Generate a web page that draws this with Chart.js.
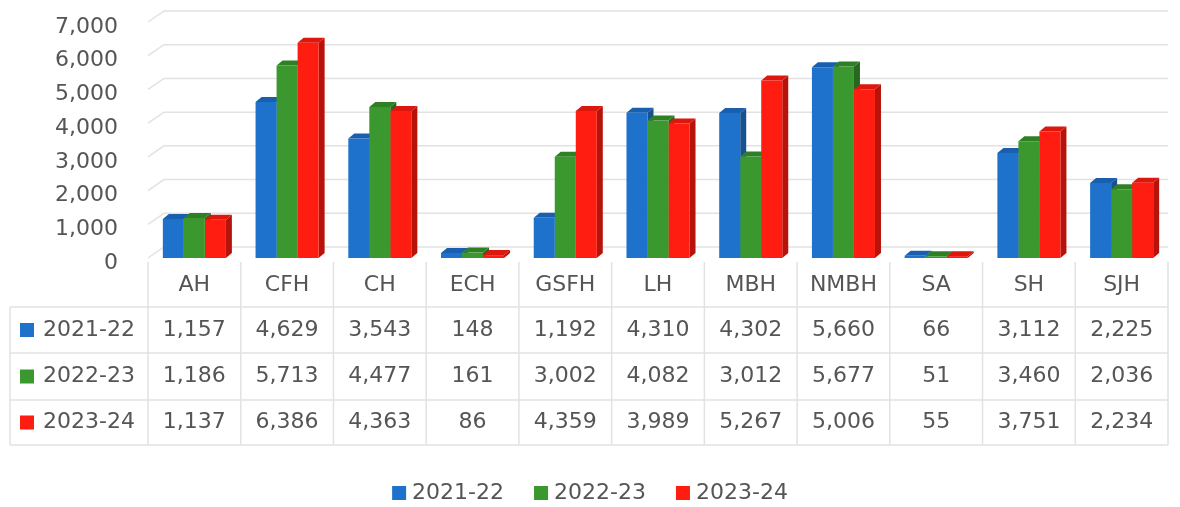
<!DOCTYPE html>
<html>
<head>
<meta charset="utf-8">
<script src="https://cdn.jsdelivr.net/npm/chart.js@4/dist/chart.umd.min.js"></script>
<style>
  html, body { margin: 0; padding: 0; background: #fff; }
  #wrap { width: 1180px; height: 507px; position: relative; }
</style>
</head>
<body>
<div id="wrap"><canvas id="chart"></canvas></div>
<script>
// Data
const categories = ['AH', 'CFH', 'CH', 'ECH', 'GSFH', 'LH', 'MBH', 'NMBH', 'SA', 'SH', 'SJH'];
const seriesNames = ['2021-22', '2022-23', '2023-24'];
const values2021 = [1157, 4629, 3543, 148, 1192, 4310, 4302, 5660, 66, 3112, 2225];
const values2022 = [1186, 5713, 4477, 161, 3002, 4082, 3012, 5677, 51, 3460, 2036];
const values2023 = [1137, 6386, 4363, 86, 4359, 3989, 5267, 5006, 55, 3751, 2234];
const yTicks = [0, 1000, 2000, 3000, 4000, 5000, 6000, 7000];

// front / top / side colours for the 3D bars
const palette = [
    { front: '#1f72cc', top: '#1a5fae', side: '#17518f' },
    { front: '#3a982e', top: '#2f8025', side: '#27681f' },
    { front: '#ff1c10', top: '#dc170d', side: '#b8130b' }
];

const FONT = '"DejaVu Sans", sans-serif';
const TEXT_COLOR = '#555555';
const LINE_COLOR = '#e2e2e2';
const DEPTH_X = 6, DEPTH_Y = 5;

const fmt = v => v.toLocaleString('en-US');

// Back wall gridlines with a short perspective step at the left
const gridPlugin = {
    id: 'grid3d',
    beforeDatasetsDraw(chart) {
        const { ctx, chartArea, scales } = chart;
        ctx.save();
        ctx.strokeStyle = LINE_COLOR;
        ctx.lineWidth = 1.5;
        yTicks.forEach(t => {
            const y = scales.y.getPixelForValue(t);
            ctx.beginPath();
            ctx.moveTo(chartArea.left, y);
            ctx.lineTo(chartArea.left + 16, y - 11);
            ctx.lineTo(chartArea.right, y - 11);
            ctx.stroke();
        });
        // side faces and tops of the bars, drawn behind the fronts
        chart.data.datasets.forEach((ds, i) => {
            const meta = chart.getDatasetMeta(i);
            const c = palette[i];
            meta.data.forEach(bar => {
                const left = bar.x - bar.width / 2;
                const right = bar.x + bar.width / 2;
                const top = bar.y;
                const bottom = bar.base;
                ctx.fillStyle = c.side;
                ctx.beginPath();
                ctx.moveTo(right, top);
                ctx.lineTo(right + DEPTH_X, top - DEPTH_Y);
                ctx.lineTo(right + DEPTH_X, bottom - DEPTH_Y);
                ctx.lineTo(right, bottom);
                ctx.closePath();
                ctx.fill();
                ctx.fillStyle = c.top;
                ctx.beginPath();
                ctx.moveTo(left, top);
                ctx.lineTo(left + DEPTH_X, top - DEPTH_Y);
                ctx.lineTo(right + DEPTH_X, top - DEPTH_Y);
                ctx.lineTo(right, top);
                ctx.closePath();
                ctx.fill();
            });
        });
        ctx.restore();
    }
};

// Data table under the plot plus the legend at the bottom
const tablePlugin = {
    id: 'dataTable',
    afterDraw(chart) {
        const { ctx, chartArea, scales } = chart;
        const x = scales.x;
        const colW = (chartArea.right - chartArea.left) / categories.length;
        const headTop = 262, rowLines = [307, 353, 400, 445];
        const tableLeft = 10;
        ctx.save();
        ctx.strokeStyle = LINE_COLOR;
        ctx.lineWidth = 1.5;
        // horizontal lines
        rowLines.forEach(y => {
            ctx.beginPath();
            ctx.moveTo(tableLeft, y);
            ctx.lineTo(chartArea.right, y);
            ctx.stroke();
        });
        // vertical lines
        for (let i = 0; i <= categories.length; i++) {
            const vx = chartArea.left + i * colW;
            ctx.beginPath();
            ctx.moveTo(vx, headTop);
            ctx.lineTo(vx, rowLines[3]);
            ctx.stroke();
        }
        ctx.beginPath();
        ctx.moveTo(tableLeft, rowLines[0]);
        ctx.lineTo(tableLeft, rowLines[3]);
        ctx.stroke();

        ctx.font = '22px ' + FONT;
        ctx.fillStyle = TEXT_COLOR;
        ctx.textAlign = 'center';
        ctx.textBaseline = 'middle';
        categories.forEach((c, i) => {
            ctx.fillText(c, x.getPixelForValue(i), (headTop + rowLines[0]) / 2 + 1);
        });
        chart.data.datasets.forEach((ds, r) => {
            const yMid = (rowLines[r] + rowLines[r + 1]) / 2;
            ctx.fillStyle = palette[r].front;
            ctx.fillRect(20, yMid - 7, 14, 14);
            ctx.fillStyle = TEXT_COLOR;
            ctx.textAlign = 'left';
            ctx.fillText(ds.label, 43, yMid);
            ctx.textAlign = 'center';
            ds.data.forEach((v, i) => {
                ctx.fillText(fmt(v), x.getPixelForValue(i), yMid);
            });
        });

        // legend
        const legendY = 493;
        const items = chart.data.datasets.map(ds => 14 + 6 + ctx.measureText(ds.label).width);
        const gap = 30;
        const total = items.reduce((a, b) => a + b, 0) + gap * (items.length - 1);
        let lx = chart.width / 2 - total / 2;
        ctx.textAlign = 'left';
        chart.data.datasets.forEach((ds, i) => {
            ctx.fillStyle = palette[i].front;
            ctx.fillRect(lx, legendY - 7, 14, 14);
            ctx.fillStyle = TEXT_COLOR;
            ctx.fillText(ds.label, lx + 20, legendY);
            lx += items[i] + gap;
        });
        ctx.restore();
    }
};

const seriesValues = [values2021, values2022, values2023];

const ctx = document.getElementById('chart').getContext('2d');
new Chart(ctx, {
    type: 'bar',
    data: {
        labels: categories,
        datasets: seriesNames.map((name, i) => ({
            label: name,
            data: seriesValues[i],
            backgroundColor: palette[i].front,
            borderWidth: 0,
            categoryPercentage: 0.68,
            barPercentage: 1
        }))
    },
    options: {
        responsive: true,
        maintainAspectRatio: false,
        animation: false,
        layout: {
            padding: { top: 22, bottom: 249, left: 0, right: 12 }
        },
        scales: {
            x: {
                grid: { display: false, drawTicks: false },
                border: { display: false },
                ticks: { display: false },
                afterFit: scale => { scale.height = 0; }
            },
            y: {
                min: 0,
                max: 7000,
                afterBuildTicks: scale => {
                    scale.ticks = yTicks.map(v => ({ value: v }));
                },
                grid: { display: false, drawTicks: false },
                border: { display: false },
                ticks: {
                    padding: 30,
                    labelOffset: 5,
                    color: TEXT_COLOR,
                    font: { family: FONT, size: 22 },
                    callback: v => fmt(v)
                },
                afterFit: scale => {
                    scale.width = 148;
                    // keep the plot top fixed by the layout padding only
                    scale.paddingTop = 0;
                    scale.paddingBottom = 0;
                }
            }
        },
        plugins: {
            legend: { display: false },
            tooltip: { enabled: false }
        }
    },
    plugins: [gridPlugin, tablePlugin]
});
</script>
</body>
</html>
